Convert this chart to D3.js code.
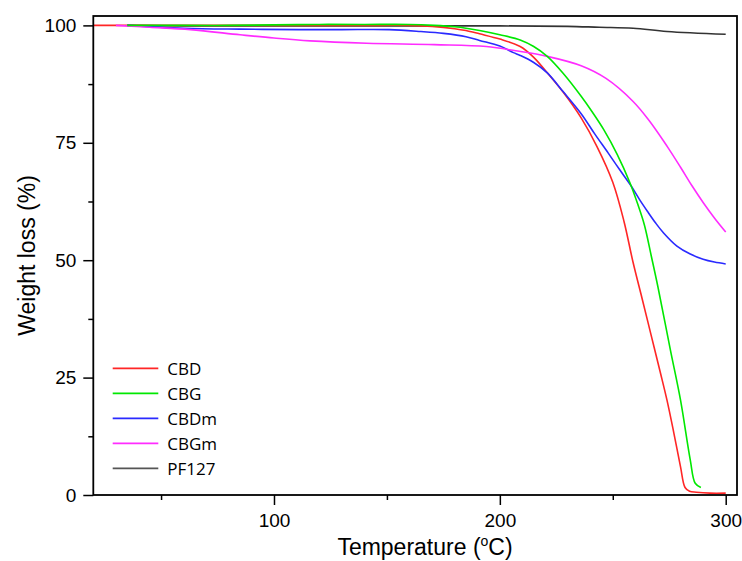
<!DOCTYPE html>
<meta charset="utf-8">
<style>
body { margin: 0; background: #fff; }
.axis text { font: 19px "Liberation Sans", Arial, sans-serif; fill: #000; }
.axis line { stroke: #000; stroke-width: 1.5px; }
.axis path { display: none; }
.title { font: 23px "Liberation Sans", Arial, sans-serif; fill: #000; }
.legend text { font: 17px "Open Sans", sans-serif; fill: #000; }
.series { fill: none; stroke-width: 1.6px; stroke-linejoin: round; }
</style>
<body>
<script src="https://d3js.org/d3.v7.min.js"></script>
<script>

// data (temperature in C, weight in %)
var cbdT = [20, 40, 60, 80, 100, 120, 140, 160, 170, 180, 185, 191, 200, 209, 215, 221, 228, 236, 243, 250, 255, 259, 263, 267, 271, 274, 277, 280, 282, 284, 287, 293, 300];
var cbdW = [100, 100, 100, 100, 100, 100, 100, 100, 99.8, 99.3, 98.9, 98.2, 97.1, 95.5, 93.2, 89.9, 85.8, 80.3, 74.2, 66.6, 58.2, 49.5, 41.8, 34.0, 26.2, 20.2, 13.3, 6.0, 1.6, 0.8, 0.6, 0.4, 0.4];

var cbgT = [35, 60, 80, 100, 120, 140, 160, 171, 180, 185, 191, 200, 209, 215, 221, 228, 236, 241, 246, 252, 257.5, 261, 264, 267, 270, 275.5, 280, 284.3, 286.5, 289];
var cbgW = [100, 100, 100, 100.1, 100.2, 100.2, 100.2, 100, 99.7, 99.4, 98.9, 98.0, 96.9, 95.5, 93.4, 89.8, 84.9, 81.5, 77.8, 72.5, 66.6, 62.0, 57.5, 51.0, 44.3, 30.9, 20.2, 7.5, 2.5, 1.6];

var cbdmT = [35, 60, 85, 111, 130, 151, 165, 175, 185, 191, 200, 206, 209, 215, 221, 228, 236, 242, 248, 253, 258, 262, 265.5, 269, 272.5, 278.4, 284.3, 290, 295, 300];
var cbdmW = [100, 99.4, 99.2, 99.1, 99.1, 99.1, 98.7, 98.3, 97.6, 96.8, 95.6, 94.2, 93.6, 92.1, 89.9, 85.9, 81.2, 76.9, 72.8, 69.3, 65.9, 62.8, 60.3, 57.9, 55.8, 53.0, 51.3, 50.2, 49.6, 49.2];

var cbgmT = [30, 45, 63, 85, 100, 116, 141, 171, 194, 207, 221, 236, 247, 259, 266, 274, 280, 285, 290, 295, 300];
var cbgmW = [100, 99.6, 99.1, 98.0, 97.3, 96.7, 96.2, 95.9, 95.5, 94.6, 93.4, 91.4, 88.7, 83.8, 79.8, 74.3, 69.8, 65.9, 62.3, 59.0, 56.0];

var pfT = [35, 60, 100, 150, 200, 230, 244, 259, 274, 300];
var pfW = [100, 99.9, 99.9, 99.9, 99.9, 99.8, 99.6, 99.4, 98.7, 98.1];

var seriesNames = ["CBD", "CBG", "CBDm", "CBGm", "PF127"];
var seriesColors = ["#ff2626", "#00e800", "#2a2aff", "#ff2cff", "#333333"];

var xMajor = [100, 200, 300], xMinor = [50, 150, 250];
var yMajor = [0, 25, 50, 75, 100], yMinor = [12.5, 37.5, 62.5, 87.5];

var W = 742, H = 561;
var margin = {top: 16, right: 5, bottom: 66, left: 93.3};

var svg = d3.select("body").append("svg")
    .attr("width", W)
    .attr("height", H);

var x = d3.scaleLinear().domain([20, 305]).range([margin.left, W - margin.right]);
var y = d3.scaleLinear().domain([0, 102]).range([H - margin.bottom, margin.top]);

// axes
svg.append("g").attr("class", "axis")
    .attr("transform", "translate(0," + (H - margin.bottom) + ")")
    .call(d3.axisBottom(x).tickValues(xMajor).tickSize(10).tickPadding(9).tickFormat(d3.format("d")));
svg.append("g").attr("class", "axis")
    .attr("transform", "translate(0," + (H - margin.bottom) + ")")
    .call(d3.axisBottom(x).tickValues(xMinor).tickSize(5).tickFormat(""));
svg.append("g").attr("class", "axis")
    .attr("transform", "translate(" + margin.left + ",0)")
    .call(d3.axisLeft(y).tickValues(yMajor).tickSize(10).tickPadding(7).tickFormat(d3.format("d")));
svg.append("g").attr("class", "axis")
    .attr("transform", "translate(" + margin.left + ",0)")
    .call(d3.axisLeft(y).tickValues(yMinor).tickSize(5).tickFormat(""));

// lines
var line = d3.line()
    .x(function(d) { return x(d[0]); })
    .y(function(d) { return y(d[1]); })
    .curve(d3.curveCatmullRom.alpha(0.5));

function pairs(t, w) { return t.map(function(v, i) { return [v, w[i]]; }); }

var drawOrder = [
  [pfT, pfW, 4],
  [cbdT, cbdW, 0],
  [cbdmT, cbdmW, 2],
  [cbgmT, cbgmW, 3],
  [cbgT, cbgW, 1]
];
drawOrder.forEach(function(s) {
  svg.append("path")
    .attr("class", "series")
    .attr("d", line(pairs(s[0], s[1])))
    .attr("stroke", seriesColors[s[2]]);
});

// frame
svg.append("rect")
    .attr("x", margin.left)
    .attr("y", margin.top)
    .attr("width", W - margin.right - margin.left)
    .attr("height", H - margin.bottom - margin.top)
    .attr("fill", "none")
    .attr("stroke", "#000")
    .attr("stroke-width", 1.8);

// legend
var legend = svg.append("g").attr("class", "legend");
seriesNames.forEach(function(name, i) {
  var ly = 368.3 + i * 25;
  legend.append("line")
    .attr("x1", 112.7).attr("x2", 158.3)
    .attr("y1", ly).attr("y2", ly)
    .attr("stroke", i == 4 ? "#555" : seriesColors[i])
    .attr("stroke-width", 1.8);
  legend.append("text")
    .attr("x", 167.3)
    .attr("y", ly + 6.5)
    .text(name);
});

// axis titles
var xt = svg.append("text")
    .attr("class", "title")
    .attr("x", 425)
    .attr("y", 555)
    .attr("text-anchor", "middle");
xt.append("tspan").text("Temperature (");
xt.append("tspan").attr("font-size", "14px").attr("dy", -9).text("o");
xt.append("tspan").attr("dy", 9).text("C)");

svg.append("text")
    .attr("class", "title")
    .attr("transform", "translate(35," + ((margin.top + H - margin.bottom) / 2) + ") rotate(-90)")
    .attr("text-anchor", "middle")
    .text("Weight loss (%)");

</script>
</body>
